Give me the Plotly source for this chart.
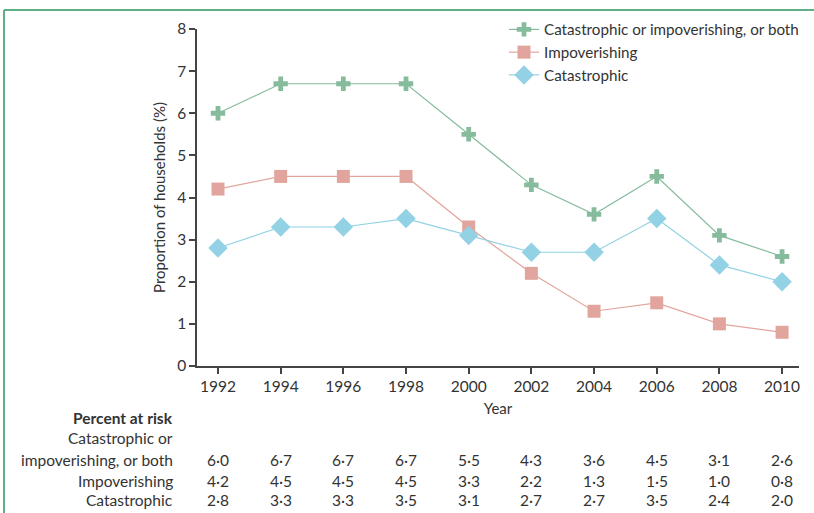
import plotly.graph_objects as go

# Survey years and percentage of households at risk
years = [1992, 1994, 1996, 1998, 2000, 2002, 2004, 2006, 2008, 2010]
either_or_both = [6.0, 6.7, 6.7, 6.7, 5.5, 4.3, 3.6, 4.5, 3.1, 2.6]
impoverishing = [4.2, 4.5, 4.5, 4.5, 3.3, 2.2, 1.3, 1.5, 1.0, 0.8]
catastrophic = [2.8, 3.3, 3.3, 3.5, 3.1, 2.7, 2.7, 3.5, 2.4, 2.0]

series_names = ["Catastrophic or impoverishing, or both", "Impoverishing", "Catastrophic"]
y_ticks = [0, 1, 2, 3, 4, 5, 6, 7, 8]

FONT = "Lato"
TEXT = "#333333"
AXIS = "#444444"
GREEN = "#86bc9c"
PINK = "#e2a59e"
BLUE = "#92d2e4"

W, H = 814, 513
L, R, T, B = 197, 799, 29, 366  # plot area in pixels


def px_x(p):
    return (p - L) / (R - L)


def px_y(p):
    return (B - p) / (B - T)


fig = go.Figure()
fig.add_trace(go.Scatter(
    x=years, y=either_or_both, name=series_names[0], mode="lines+markers",
    line=dict(color=GREEN, width=1.2),
    marker=dict(symbol="cross", size=12, color=GREEN, line=dict(width=0)),
))
fig.add_trace(go.Scatter(
    x=years, y=impoverishing, name=series_names[1], mode="lines+markers",
    line=dict(color=PINK, width=1.2),
    marker=dict(symbol="square", size=13, color=PINK, line=dict(width=0)),
))
fig.add_trace(go.Scatter(
    x=years, y=catastrophic, name=series_names[2], mode="lines+markers",
    line=dict(color=BLUE, width=1.2),
    marker=dict(symbol="diamond", size=15, color=BLUE, line=dict(width=0)),
))

# Table of values under the axis
def fmt(v):
    return f"{v:.1f}".replace(".", "\u00b7")

rows = [(either_or_both, 460), (impoverishing, 481), (catastrophic, 500)]
annotations = []
for vals, py in rows:
    for yr, v in zip(years, vals):
        annotations.append(dict(
            x=yr, y=px_y(py), xref="x", yref="paper", text=fmt(v),
            showarrow=False, xanchor="center", yanchor="middle",
            font=dict(family=FONT, size=15.5, color=TEXT),
        ))

row_labels = [
    ("<b>Percent at risk</b>", 418),
    ("Catastrophic or", 438),
    ("impoverishing, or both", 460),
    ("Impoverishing", 481),
    ("Catastrophic", 500),
]
for txt, py in row_labels:
    annotations.append(dict(
        x=px_x(175), y=px_y(py), xref="paper", yref="paper", text=txt,
        showarrow=False, xanchor="right", yanchor="middle",
        font=dict(family=FONT, size=15.5, color=TEXT),
    ))

# Frame lines along the top and left edges
shapes = [
    dict(type="line", xref="paper", yref="paper",
         x0=px_x(4), x1=px_x(814), y0=px_y(10), y1=px_y(10),
         line=dict(color="#5fae86", width=2)),
    dict(type="line", xref="paper", yref="paper",
         x0=px_x(4), x1=px_x(4), y0=px_y(10), y1=px_y(514),
         line=dict(color="#5fae86", width=2)),
]

fig.update_layout(
    width=W, height=H,
    margin=dict(l=L, r=W - R, t=T, b=H - B, autoexpand=False),
    paper_bgcolor="white", plot_bgcolor="white",
    font=dict(family=FONT, size=15, color=TEXT),
    showlegend=True,
    legend=dict(
        x=px_x(504), y=px_y(13), xanchor="left", yanchor="top",
        xref="paper", yref="paper",
        bgcolor="rgba(0,0,0,0)", tracegroupgap=0,
        font=dict(family=FONT, size=15.2, color=TEXT),
        itemwidth=30,
    ),
    annotations=annotations,
    shapes=shapes,
)
fig.update_xaxes(
    range=[1991.33, 2010.54], tickvals=years, ticktext=[str(y) for y in years],
    showline=True, linecolor=AXIS, linewidth=1.5,
    ticks="outside", ticklen=6, tickcolor=AXIS, tickwidth=1.5,
    showgrid=False, zeroline=False, automargin=False,
    title=dict(text="Year", standoff=9, font=dict(family=FONT, size=15, color=TEXT)),
    tickfont=dict(family=FONT, size=15.5, color=TEXT),
)
fig.update_yaxes(
    range=[0, 8], tickvals=y_ticks,
    showline=True, linecolor=AXIS, linewidth=1.5,
    ticks="outside", ticklen=6, tickcolor=AXIS, tickwidth=1.5,
    showgrid=False, zeroline=False, automargin=False,
    title=dict(text="Proportion of households (%)", standoff=8,
               font=dict(family=FONT, size=15, color=TEXT)),
    tickfont=dict(family=FONT, size=15.5, color=TEXT),
)

fig.write_html("out.html")
